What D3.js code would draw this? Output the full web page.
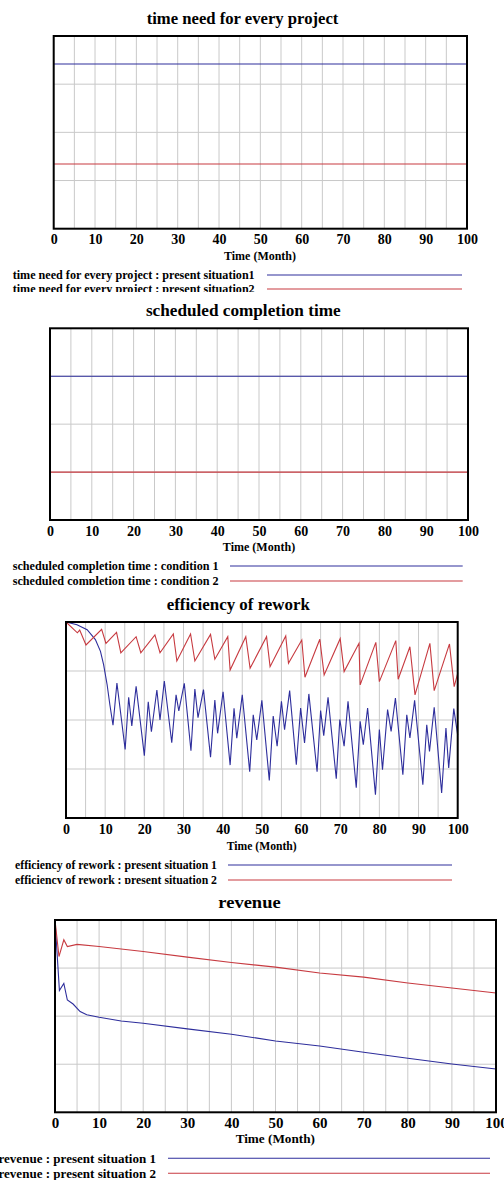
<!DOCTYPE html>
<html>
<head>
<meta charset="utf-8">
<script src="https://cdn.jsdelivr.net/npm/d3@7"></script>
<style>
  body { margin: 0; background: #fff; }
  svg { display: block; }
  text { font-family: "Liberation Serif", "Times New Roman", serif; font-weight: bold; fill: #000; }
</style>
</head>
<body>
<div id="chart"></div>
<script>
// ---- data ----
var xTicks = [0, 10, 20, 30, 40, 50, 60, 70, 80, 90, 100];

// time need for every project
var timeNeedSit1 = [[0, 8.55], [100, 8.55]];
var timeNeedSit2 = [[0, 3.36], [100, 3.36]];

// scheduled completion time
var schedCond1 = [[0, 30], [100, 30]];
var schedCond2 = [[0, 10], [100, 10]];

// efficiency of rework
var effSit1 = [[0, 1.0], [2.8, 0.986], [5.4, 0.961], [7.5, 0.91], [8.8, 0.85], [9.6, 0.782], [10.5, 0.68],
  [11.2, 0.578], [12.0, 0.473], [13.0, 0.689], [15.1, 0.35], [16.0, 0.616], [16.8, 0.47], [17.9, 0.672],
  [20.0, 0.318], [21.0, 0.593], [21.8, 0.44], [23.2, 0.653], [24.0, 0.5], [25.1, 0.699], [27.0, 0.384],
  [28.1, 0.628], [28.8, 0.547], [30.2, 0.687], [31.9, 0.343], [32.9, 0.658], [33.7, 0.512], [35.1, 0.655],
  [36.9, 0.31], [38.0, 0.602], [38.7, 0.432], [40.1, 0.644], [41.9, 0.27], [42.9, 0.56], [43.6, 0.407],
  [45.0, 0.628], [46.9, 0.236], [47.8, 0.526], [48.7, 0.398], [50.0, 0.6], [51.9, 0.192], [52.9, 0.52],
  [53.9, 0.366], [55.0, 0.595], [55.8, 0.45], [57.1, 0.65], [58.8, 0.272], [59.9, 0.561], [60.9, 0.383],
  [62.0, 0.633], [64.1, 0.236], [65.0, 0.548], [65.8, 0.42], [66.9, 0.616], [69.0, 0.2], [69.9, 0.502],
  [71.0, 0.366], [72.0, 0.595], [74.1, 0.155], [75.1, 0.493], [75.9, 0.374], [77.0, 0.561], [79.0, 0.119],
  [80.0, 0.451], [80.8, 0.247], [82.1, 0.553], [83.0, 0.442], [84.1, 0.612], [86.0, 0.221], [87.0, 0.527],
  [87.8, 0.408], [89.0, 0.6], [91.1, 0.17], [92.1, 0.476], [92.8, 0.34], [94.0, 0.565], [95.9, 0.128],
  [97.0, 0.459], [97.7, 0.255], [99.0, 0.558], [100, 0.423]];
var effSit2 = [[0, 1.0], [2.9, 0.945], [3.5, 0.959], [5.1, 0.883], [9.1, 0.963], [10.2, 0.891], [12.9, 0.947],
  [14.0, 0.843], [17.9, 0.925], [19.1, 0.843], [22.7, 0.934], [24.0, 0.843], [27.4, 0.939], [28.3, 0.801],
  [31.8, 0.939], [32.9, 0.801], [36.9, 0.937], [38.0, 0.81], [41.3, 0.925], [41.9, 0.755], [45.9, 0.925],
  [47.0, 0.764], [51.2, 0.925], [52.1, 0.772], [56.1, 0.929], [56.8, 0.789], [60.2, 0.908], [61.0, 0.718],
  [64.8, 0.912], [65.9, 0.73], [70.0, 0.915], [71.0, 0.747], [74.8, 0.891], [75.1, 0.679], [79.1, 0.896],
  [80.0, 0.696], [84.2, 0.905], [84.8, 0.708], [87.8, 0.874], [89.1, 0.628], [92.9, 0.891], [94.0, 0.65],
  [97.9, 0.888], [99.1, 0.67], [100, 0.738]];

// revenue
var revSit1 = [[0, 1.0], [1.0, 0.633], [2.0, 0.67], [2.8, 0.584], [4.1, 0.563], [5.7, 0.524], [7.2, 0.507],
  [10, 0.494], [15, 0.475], [20, 0.463], [30, 0.434], [40, 0.406], [50, 0.371], [60, 0.345], [70, 0.312],
  [80, 0.281], [90, 0.251], [100, 0.225]];
var revSit2 = [[0, 1.0], [0.9, 0.81], [2.0, 0.897], [2.8, 0.862], [5, 0.873], [10, 0.862], [20, 0.836],
  [30, 0.807], [40, 0.779], [50, 0.755], [60, 0.724], [70, 0.703], [80, 0.672], [90, 0.646], [100, 0.62]];

var blue = "#2e2e9c", red = "#c73a40";

// ---- layout of each panel (pixel positions) ----
var panels = [
  {title: "time need for every project", yDomain: [0, 10], series: [timeNeedSit1, timeNeedSit2],
   names: ["time need for every project : present situation1", "time need for every project : present situation2"],
   clip: [0, 292], left: 53.7, right: 467, top: 36, bottom: 228.7,
   titleX: 242.5, titleY: 18, titleW: 191.7, labelX: 260, labelY: 255, labelW: 72,
   legX: 12.7, legW: 242, legFs: 12, legY: [275, 289], lineX: [267, 462], tickFs: 14},
  {title: "scheduled completion time", yDomain: [0, 40], series: [schedCond1, schedCond2],
   names: ["scheduled completion time : condition 1", "scheduled completion time : condition 2"],
   clip: [292, 585], left: 50, right: 468, top: 328.3, bottom: 520,
   titleX: 243.3, titleY: 310.7, titleW: 194.7, labelX: 259, labelY: 546.7, labelW: 72.3,
   legX: 12.7, legW: 206, legFs: 12, legY: [566, 581], lineX: [230, 462.7], tickFs: 14},
  {title: "efficiency of rework", yDomain: [0, 1], series: [effSit1, effSit2],
   names: ["efficiency of rework : present situation 1", "efficiency of rework : present situation 2"],
   clip: [585, 884], left: 66, right: 457.7, top: 622, bottom: 818,
   titleX: 238.3, titleY: 604, titleW: 143.3, labelX: 261.7, labelY: 845, labelW: 70,
   legX: 15, legW: 202, legFs: 12, legY: [865, 880], lineX: [228, 452], tickFs: 14},
  {title: "revenue", yDomain: [0, 1], series: [revSit1, revSit2],
   names: ["revenue : present situation 1", "revenue : present situation 2"],
   clip: [884, 1180], left: 55, right: 496, top: 920, bottom: 1112.3,
   titleX: 249.5, titleY: 902.7, titleW: 62.3, labelX: 275.3, labelY: 1138.3, labelW: 79.3,
   legX: -1.5, legW: 157.5, legFs: 13, legY: [1158.3, 1173.3], lineX: [168, 490], tickFs: 15}
];

var svg = d3.select("#chart").append("svg")
  .attr("width", 504)
  .attr("height", 1180);
svg.append("rect").attr("width", 504).attr("height", 1180).attr("fill", "#fff");

var defs = svg.append("defs");
var colors = [blue, red];

panels.forEach(function (p, pi) {
  defs.append("clipPath").attr("id", "clip" + pi)
    .append("rect")
    .attr("x", -10).attr("y", p.clip[0])
    .attr("width", 530).attr("height", p.clip[1] - p.clip[0]);

  var g = svg.append("g").attr("clip-path", "url(#clip" + pi + ")");

  var x = d3.scaleLinear().domain([0, 100]).range([p.left, p.right]);
  var y = d3.scaleLinear().domain(p.yDomain).range([p.bottom, p.top]);

  // title
  g.append("text")
    .attr("x", p.titleX).attr("y", p.titleY)
    .attr("text-anchor", "middle")
    .attr("dominant-baseline", "central")
    .attr("textLength", p.titleW).attr("lengthAdjust", "spacingAndGlyphs")
    .style("font-size", "17px")
    .text(p.title);

  // grid
  g.append("g").selectAll("line.vg")
    .data(x.ticks(20))
    .enter().append("line")
    .attr("x1", function (d) { return x(d); })
    .attr("x2", function (d) { return x(d); })
    .attr("y1", p.top).attr("y2", p.bottom)
    .style("stroke", "#c9c9c9").style("stroke-width", 1);
  var d0 = p.yDomain[0], span = p.yDomain[1] - p.yDomain[0];
  g.append("g").selectAll("line.hg")
    .data([1, 2, 3].map(function (k) { return d0 + k * span / 4; }))
    .enter().append("line")
    .attr("x1", p.left).attr("x2", p.right)
    .attr("y1", function (d) { return y(d); })
    .attr("y2", function (d) { return y(d); })
    .style("stroke", "#c9c9c9").style("stroke-width", 1);

  // series
  var line = d3.line()
    .x(function (d) { return x(d[0]); })
    .y(function (d) { return y(d[1]); });
  g.selectAll("path.series")
    .data(p.series)
    .enter().append("path")
    .attr("class", "series")
    .attr("d", line)
    .style("fill", "none")
    .style("stroke", function (d, i) { return colors[i]; })
    .style("stroke-width", 1.1);

  // frame
  g.append("rect")
    .attr("x", p.left).attr("y", p.top)
    .attr("width", p.right - p.left).attr("height", p.bottom - p.top)
    .style("fill", "none").style("stroke", "#000").style("stroke-width", 2);

  // x axis labels
  var ax = g.append("g")
    .attr("transform", "translate(0," + p.bottom + ")")
    .call(d3.axisBottom(x).tickValues(xTicks).tickSize(0).tickFormat(d3.format("d")));
  ax.select(".domain").remove();
  ax.attr("font-family", null).attr("font-size", null);
  ax.selectAll("text")
    .attr("y", 11).attr("dy", null)
    .attr("dominant-baseline", "central")
    .attr("fill", "#000")
    .style("font-size", p.tickFs + "px");

  g.append("text")
    .attr("x", p.labelX).attr("y", p.labelY)
    .attr("text-anchor", "middle")
    .attr("dominant-baseline", "central")
    .attr("textLength", p.labelW).attr("lengthAdjust", "spacingAndGlyphs")
    .style("font-size", "13px")
    .text("Time (Month)");

  // legend
  p.names.forEach(function (name, i) {
    g.append("text")
      .attr("x", p.legX).attr("y", p.legY[i])
      .attr("dominant-baseline", "central")
      .attr("textLength", p.legW).attr("lengthAdjust", "spacingAndGlyphs")
      .style("font-size", p.legFs + "px")
      .text(name);
    g.append("line")
      .attr("x1", p.lineX[0]).attr("x2", p.lineX[1])
      .attr("y1", p.legY[i]).attr("y2", p.legY[i])
      .style("stroke", colors[i]).style("stroke-width", 1.1);
  });
});
</script>
</body>
</html>
